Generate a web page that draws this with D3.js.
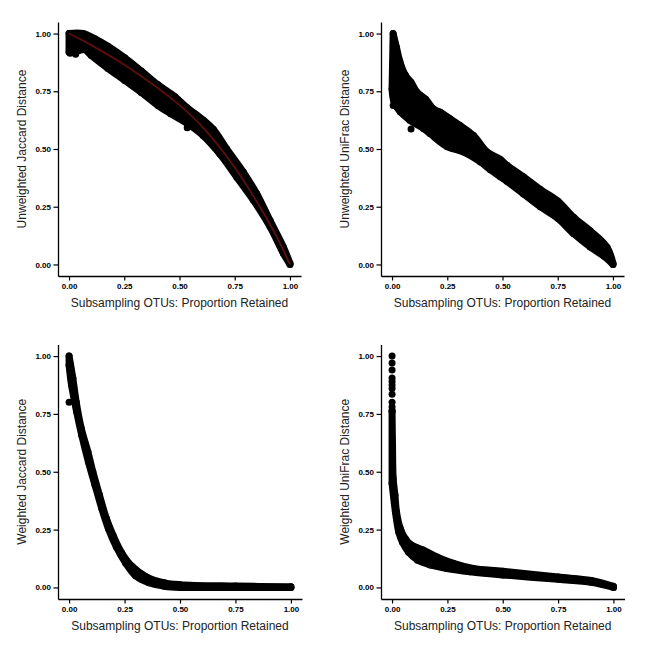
<!DOCTYPE html>
<html><head><meta charset="utf-8">
<script src="https://cdn.jsdelivr.net/npm/d3@7/dist/d3.min.js"></script>
<style>body{margin:0;background:#fff}</style>
</head><body>
<svg id="chart" width="646" height="646"></svg>
<script>
// ---- data ----
const xTicks = [0, 0.25, 0.5, 0.75, 1];
const yTicks = [0, 0.25, 0.5, 0.75, 1];
const xTitle = "Subsampling OTUs: Proportion Retained";
const yTitles = ["Unweighted Jaccard Distance", "Unweighted UniFrac Distance",
                 "Weighted Jaccard Distance", "Weighted UniFrac Distance"];

// Panel 1: Unweighted Jaccard — upper / lower envelope of the point cloud
const ujHiX = [0, 0.063, 0.116, 0.176, 0.252, 0.327, 0.403, 0.478, 0.533, 0.608, 0.653, 0.714, 0.789, 0.849, 0.91, 0.97, 1.0];
const ujHiY = [1.0, 1.0, 0.978, 0.945, 0.895, 0.838, 0.778, 0.727, 0.68, 0.625, 0.585, 0.5, 0.4, 0.307, 0.19, 0.076, 0.005];
const ujLoX = [0, 0.04, 0.07, 0.101, 0.176, 0.252, 0.327, 0.403, 0.46, 0.533, 0.608, 0.683, 0.759, 0.834, 0.91, 0.97, 1.0];
const ujLoY = [0.92, 0.925, 0.93, 0.905, 0.849, 0.797, 0.745, 0.688, 0.653, 0.612, 0.557, 0.478, 0.378, 0.279, 0.163, 0.048, 0.0];
const ujOutX = [0.005, 0.03, 0.535];
const ujOutY = [0.915, 0.91, 0.592];
const ujFitX = [0, 0.1, 0.25, 0.4, 0.5, 0.6, 0.75, 0.86, 0.94, 1.0];
const ujFitY = [1.0, 0.95, 0.865, 0.765, 0.69, 0.6, 0.42, 0.255, 0.12, 0.0];

// Panel 2: Unweighted UniFrac
const uuHiX = [0.005, 0.02, 0.035, 0.06, 0.085, 0.113, 0.151, 0.188, 0.219, 0.264, 0.309, 0.369, 0.43, 0.49, 0.52, 0.595, 0.671, 0.75, 0.822, 0.897, 0.973, 1.0];
const uuHiY = [1.0, 0.94, 0.88, 0.82, 0.79, 0.746, 0.717, 0.673, 0.659, 0.63, 0.601, 0.558, 0.487, 0.455, 0.43, 0.38, 0.325, 0.275, 0.204, 0.146, 0.075, 0.005];
const uuLoX = [0.0, 0.01, 0.038, 0.08, 0.143, 0.173, 0.25, 0.324, 0.4, 0.445, 0.49, 0.52, 0.595, 0.671, 0.75, 0.822, 0.897, 0.96, 1.0];
const uuLoY = [0.76, 0.7, 0.66, 0.625, 0.588, 0.566, 0.51, 0.487, 0.444, 0.41, 0.38, 0.36, 0.305, 0.25, 0.2, 0.133, 0.076, 0.035, 0.0];
const uuOutX = [0.005, 0.086];
const uuOutY = [0.688, 0.587];

// Panel 3: Weighted Jaccard
const wjHiX = [0.0, 0.017, 0.032, 0.055, 0.085, 0.107, 0.137, 0.168, 0.198, 0.237, 0.285, 0.35, 0.43, 0.5, 0.75, 1.0];
const wjHiY = [1.0, 0.904, 0.802, 0.687, 0.586, 0.5, 0.399, 0.298, 0.226, 0.15, 0.09, 0.045, 0.02, 0.012, 0.006, 0.003];
const wjLoX = [0.0, 0.011, 0.034, 0.057, 0.087, 0.117, 0.147, 0.177, 0.213, 0.255, 0.3, 0.36, 0.43, 0.5, 0.75, 1.0];
const wjLoY = [0.96, 0.875, 0.759, 0.658, 0.543, 0.442, 0.342, 0.255, 0.175, 0.105, 0.05, 0.02, 0.005, 0.0, 0.0, 0.0];
const wjOutX = [0.0, 0.003, 0.005, 0.006];
const wjOutY = [0.80, 0.97, 0.94, 0.91];

// Panel 4: Weighted UniFrac
const wuHiX = [0.0, 0.002, 0.005, 0.013, 0.02, 0.037, 0.06, 0.085, 0.14, 0.2, 0.277, 0.367, 0.5, 0.75, 0.9, 1.0];
const wuHiY = [0.76, 0.615, 0.471, 0.399, 0.327, 0.255, 0.21, 0.185, 0.162, 0.133, 0.104, 0.082, 0.07, 0.045, 0.03, 0.005];
const wuLoX = [0.0, 0.015, 0.03, 0.047, 0.075, 0.115, 0.172, 0.247, 0.352, 0.5, 0.75, 0.9, 1.0];
const wuLoY = [0.45, 0.327, 0.24, 0.195, 0.152, 0.118, 0.097, 0.082, 0.068, 0.054, 0.035, 0.022, 0.0];
const wuOutX = [0, 0, 0, 0, 0, 0, 0, 0, 0, 0, 0];
const wuOutY = [1.0, 0.97, 0.94, 0.905, 0.89, 0.875, 0.86, 0.835, 0.8, 0.78, 0.765];

// ---- drawing ----
const zip = (xs, ys) => xs.map((x, i) => ({x, y: ys[i]}));
const panels = [
  {hi: zip(ujHiX, ujHiY), lo: zip(ujLoX, ujLoY), out: zip(ujOutX, ujOutY), fit: zip(ujFitX, ujFitY), yTitle: yTitles[0],
   xr: [58, 301], yr: [276, 22]},
  {hi: zip(uuHiX, uuHiY), lo: zip(uuLoX, uuLoY), out: zip(uuOutX, uuOutY), yTitle: yTitles[1],
   xr: [381, 624], yr: [276, 22]},
  {hi: zip(wjHiX, wjHiY), lo: zip(wjLoX, wjLoY), out: zip(wjOutX, wjOutY), yTitle: yTitles[2],
   xr: [58, 302], yr: [599, 344.5]},
  {hi: zip(wuHiX, wuHiY), lo: zip(wuLoX, wuLoY), out: zip(wuOutX, wuOutY), yTitle: yTitles[3],
   xr: [381, 624.5], yr: [599, 344.5]}
];

const svg = d3.select("#chart");
const R = 3.5;
const fmt = d3.format(".2f");

panels.forEach(p => {
  const x = d3.scaleLinear().domain([-0.05, 1.05]).range(p.xr);
  const y = d3.scaleLinear().domain([-0.05, 1.05]).range(p.yr);
  const g = svg.append("g");

  // point cloud: smoothed envelope polygon with point-radius stroke
  const line = d3.line().x(d => x(d.x)).y(d => y(d.y)).curve(d3.curveCatmullRom);
  const dHi = line(p.hi);
  const dLo = line(p.lo.slice().reverse());
  g.append("path").attr("d", dHi + "L" + dLo.slice(1) + "Z")
    .attr("fill", "#000").attr("stroke", "#000")
    .attr("stroke-width", 2 * R).attr("stroke-linejoin", "round");

  g.selectAll("circle.pt").data(p.hi.concat(p.lo, p.out)).join("circle")
    .attr("class", "pt").attr("cx", d => x(d.x)).attr("cy", d => y(d.y))
    .attr("r", R).attr("fill", "#000");

  if (p.fit) {
    g.append("path").attr("d", d3.line().x(d => x(d.x)).y(d => y(d.y)).curve(d3.curveCatmullRom)(p.fit))
      .attr("fill", "none").attr("stroke", "#5e0e0e").attr("stroke-width", 1.8);
  }

  // axes
  const ax = g.append("g").attr("transform", `translate(0,${p.yr[0]})`)
    .call(d3.axisBottom(x).tickValues(xTicks).tickFormat(fmt).tickSize(4.5).tickPadding(2.5).tickSizeOuter(0));
  const ay = g.append("g").attr("transform", `translate(${p.xr[0]},0)`)
    .call(d3.axisLeft(y).tickValues(yTicks).tickFormat(fmt).tickSize(4.5).tickPadding(2.5).tickSizeOuter(0));
  [ax, ay].forEach(a => {
    a.select(".domain").attr("stroke", "#000").attr("stroke-width", 1.3);
    a.selectAll(".tick line").attr("stroke", "#000").attr("stroke-width", 1.2);
    a.selectAll(".tick text").attr("fill", "#000")
      .style("font-family", "'Liberation Sans', Arial, sans-serif")
      .style("font-size", "8px").style("font-weight", "bold");
  });

  g.append("text").attr("x", (p.xr[0] + p.xr[1]) / 2).attr("y", p.yr[0] + 30.5)
    .attr("text-anchor", "middle").attr("fill", "#222")
    .style("font-family", "'Liberation Sans', Arial, sans-serif").style("font-size", "12px")
    .text(xTitle);
  g.append("text")
    .attr("transform", `translate(${p.xr[0] - 32.5},${(p.yr[0] + p.yr[1]) / 2}) rotate(-90)`)
    .attr("text-anchor", "middle").attr("fill", "#222")
    .style("font-family", "'Liberation Sans', Arial, sans-serif").style("font-size", "12px")
    .text(p.yTitle);
});
</script>
</body></html>
